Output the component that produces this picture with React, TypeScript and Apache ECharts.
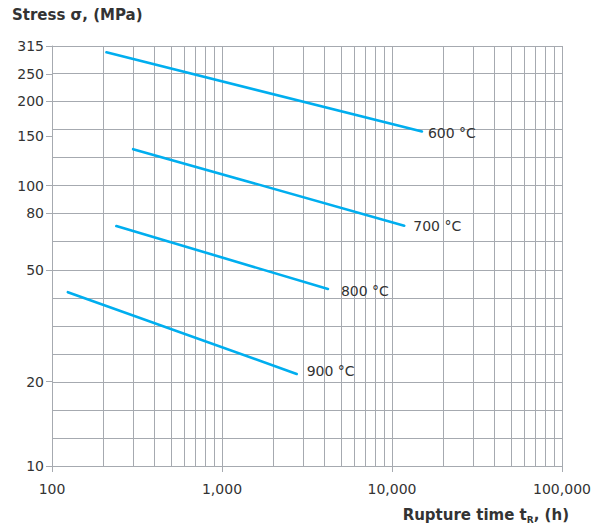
import React, { useEffect, useRef } from "react";
import * as echarts from "echarts";

// Rupture time (h) and stress (MPa) end points of each isotherm
const seriesNames = ["600 °C", "700 °C", "800 °C", "900 °C"];
const time600 = [209, 15000];
const stress600 = [299, 156];
const time700 = [300, 11800];
const stress700 = [135, 72];
const time800 = [239, 4200];
const stress800 = [71.8, 42.8];
const time900 = [124, 2750];
const stress900 = [41.7, 21.3];

const yTickLabels = [315, 250, 200, 150, 100, 80, 50, 20, 10];
const xDecades = [100, 1000, 10000, 100000];
const yMin = 10;
const yMax = 315;

const GRID = "#a6aab0";
const TEXT = "#333333";
const LINE = "#00aeef";
const FONT = "DejaVu Sans";

const lg = (v: number) => Math.log10(v);

export default function App() {
  const ref = useRef<HTMLDivElement>(null);

  useEffect(() => {
    if (!ref.current) return;
    const chart = echarts.init(ref.current, undefined, { renderer: "svg" });

    const times = [time600, time700, time800, time900];
    const stresses = [stress600, stress700, stress800, stress900];
    const labelOffsets = [[0, 1], [3, 0], [7, 2], [4, -3]];

    // minor log grid positions (2..9 x decade)
    const minorX: number[] = [];
    for (let d = 0; d < xDecades.length - 1; d++) {
      for (let k = 2; k <= 9; k++) minorX.push(lg(xDecades[d] * k));
    }

    const series = seriesNames.map((name, i) => ({
      name,
      type: "line",
      xAxisIndex: 0,
      yAxisIndex: 0,
      showSymbol: false,
      symbol: "none",
      data: times[i].map((t, j) => [lg(t), lg(stresses[i][j])]),
      lineStyle: { color: LINE, width: 2.6, cap: "round" },
      itemStyle: { color: LINE },
      endLabel: {
        show: true,
        formatter: "{a}",
        color: TEXT,
        fontSize: 14,
        fontFamily: FONT,
        distance: 6,
        offset: labelOffsets[i],
      },
      z: 5,
    }));

    chart.setOption({
      animation: false,
      backgroundColor: "#ffffff",
      title: [
        {
          text: "Stress σ, (MPa)",
          left: 12,
          top: 7,
          padding: 0,
          textStyle: { fontFamily: FONT, fontSize: 15, fontWeight: "bold", color: TEXT },
        },
        {
          text: "Rupture time t{sub|R}, (h)",
          right: 29,
          top: 506,
          padding: 0,
          textStyle: {
            fontFamily: FONT,
            fontSize: 15,
            fontWeight: "bold",
            color: TEXT,
            lineHeight: 18,
            rich: {
              sub: {
                fontFamily: FONT,
                fontSize: 9,
                fontWeight: "bold",
                color: TEXT,
                padding: [9, 0, 0, 0],
              },
            },
          },
        },
      ],
      grid: { left: 52, right: 36, top: 46, bottom: 62, containLabel: false },
      xAxis: [
        {
          type: "value",
          position: "bottom",
          min: lg(xDecades[0]),
          max: lg(xDecades[xDecades.length - 1]),
          interval: 1,
          axisLine: { show: true, lineStyle: { color: GRID, width: 1 } },
          axisTick: { show: true, length: 6, lineStyle: { color: GRID } },
          axisLabel: {
            margin: 16,
            color: TEXT,
            fontSize: 14,
            fontFamily: FONT,
            formatter: (v: number) => Math.round(Math.pow(10, v)).toLocaleString("en-US"),
          },
          splitLine: { show: true, lineStyle: { color: GRID, width: 1 } },
        },
        {
          type: "value",
          position: "bottom",
          min: lg(xDecades[0]),
          max: lg(xDecades[xDecades.length - 1]),
          axisLine: { show: false },
          axisLabel: { show: false },
          splitLine: { show: false },
          axisTick: {
            show: true,
            inside: true,
            length: 420,
            customValues: minorX,
            lineStyle: { color: GRID, width: 1 },
          },
        },
      ],
      yAxis: [
        {
          type: "value",
          position: "left",
          min: lg(yMin),
          max: lg(yMax),
          interval: 0.1,
          axisLine: { show: true, lineStyle: { color: GRID, width: 1 } },
          axisTick: { show: false },
          axisLabel: {
            margin: 8,
            color: TEXT,
            fontSize: 14,
            fontFamily: FONT,
            customValues: yTickLabels.map(lg),
            formatter: (v: number) => String(Math.round(Math.pow(10, v))),
          },
          splitLine: { show: true, lineStyle: { color: GRID, width: 1 } },
        },
        {
          type: "value",
          position: "left",
          min: lg(yMin),
          max: lg(yMax),
          axisLine: { show: false },
          axisLabel: { show: false },
          splitLine: { show: false },
          axisTick: {
            show: true,
            length: 6,
            customValues: yTickLabels.map(lg),
            lineStyle: { color: GRID, width: 1 },
          },
        },
      ],
      series,
    });

    return () => chart.dispose();
  }, []);

  return (
    <div
      ref={ref}
      style={{ position: "absolute", left: 0, top: 0, width: 598, height: 528, background: "#fff" }}
    />
  );
}
